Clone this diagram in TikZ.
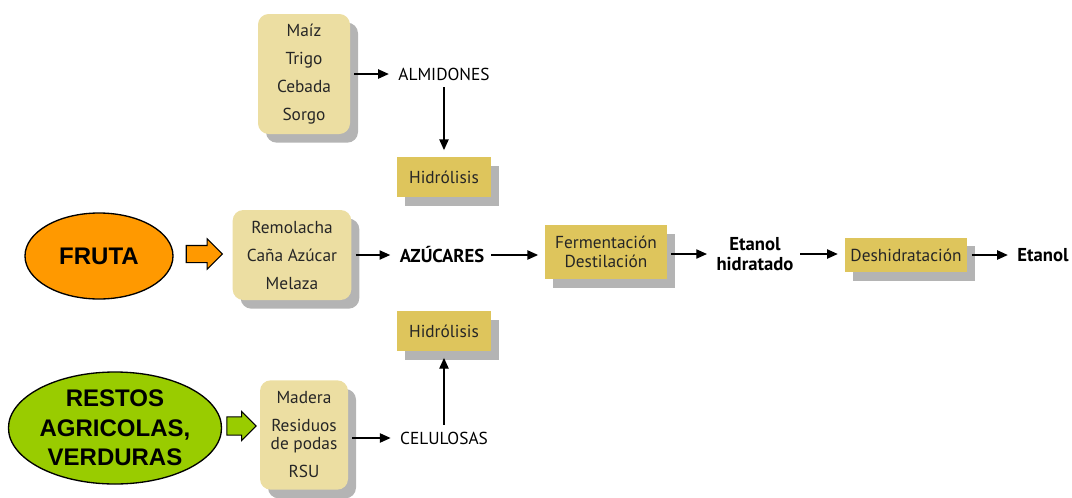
\documentclass[tikz,border=0pt]{standalone}
\usepackage{fontspec}
\setmainfont{PT Sans}
\newfontfamily\arialfont{Liberation Sans}
\usetikzlibrary{shadows}
\usetikzlibrary{shapes.geometric}
\usetikzlibrary{shapes.arrows}
\usetikzlibrary{arrows.meta}

\definecolor{paja}{RGB}{236,222,162}
\definecolor{ocre}{RGB}{222,197,92}
\definecolor{sombra}{RGB}{180,180,180}
\definecolor{naranja}{RGB}{255,153,0}
\definecolor{verde}{RGB}{153,204,0}

\tikzset{
    sombreado/.style={drop shadow={shadow xshift=6pt, shadow yshift=-6.5pt, fill=sombra, opacity=1}},
    materia/.style={sombreado, fill=paja, rounded corners=8pt, align=center, inner sep=0pt,
        text=black!85, font=\fontsize{13}{21}\selectfont},
    proceso/.style={sombreado, fill=ocre, align=center, inner sep=0pt,
        text=black!85, font=\fontsize{13}{14.5}\selectfont},
    producto/.style={inner sep=2pt, align=center, font=\fontsize{13}{15}\selectfont},
    resultado/.style={producto, font=\fontsize{14}{15.5}\selectfont\bfseries},
    fuente/.style={ellipse, draw, line width=1pt, inner sep=0pt, align=center,
        font=\arialfont\bfseries\fontsize{18}{22}\selectfont},
    bloque/.style={single arrow, draw, line width=0.8pt, inner xsep=0pt, single arrow tip angle=90},
    flecha/.style={line width=0.9pt, -{Triangle[length=8pt,width=7pt]}, shorten <=3pt, shorten >=5pt}
}

\begin{document}
\begin{tikzpicture}[x=0.75pt,y=-0.75pt]
    \useasboundingbox (0,0) rectangle (1072,497);

    % almidones
    \node[materia, minimum width=69pt, minimum height=90pt] (granos) at (304,74) {Maíz\\Trigo\\Cebada\\Sorgo};
    \node[producto] (almidon) at (444,74) {ALMIDONES};
    \node[proceso, minimum width=70.5pt, minimum height=30pt] (hidroA) at (444,177) {Hidrólisis};

    % azucares
    \node[fuente, fill=naranja, minimum width=111pt, minimum height=64.5pt] (fruta) at (99,256) {FRUTA};
    \node[bloque, fill=naranja, inner ysep=6pt, single arrow head extend=4.9pt, minimum height=27pt] (flechaF) at (200,254) {};
    \node[materia, minimum width=89pt, minimum height=67.5pt] (azucar) at (292,255) {Remolacha\\Caña Azúcar\\Melaza};
    \node[resultado] (azucares) at (442,255) {AZÚCARES};
    \node[proceso, minimum width=91.5pt, minimum height=40.5pt] (ferm) at (606,252) {Fermentación\\Destilación};
    \node[resultado] (etanolh) at (755,254) {Etanol\\hidratado};
    \node[proceso, minimum width=92pt, minimum height=26pt] (deshid) at (906,255) {Deshidratación};
    \node[resultado] (etanol) at (1043,255) {Etanol};

    % celulosas
    \node[proceso, minimum width=70.5pt, minimum height=30pt] (hidroB) at (444,331) {Hidrólisis};
    \node[fuente, fill=verde, minimum width=154.5pt, minimum height=84pt] (restos) at (115,428) {RESTOS\\AGRICOLAS,\\VERDURAS};
    \node[bloque, fill=verde, inner ysep=6.4pt, single arrow head extend=4.1pt, minimum height=22pt] (flechaR) at (237,426) {};
    \node[materia, minimum width=66pt, minimum height=82pt] (madera) at (304,435) {Madera\\Residuos\\[-7.5pt]de podas\\RSU};
    \node[producto] (celu) at (444,438) {CELULOSAS};

    \draw[flecha] (granos) -- (almidon);
    \draw[flecha] (almidon) -- (hidroA);
    \draw[flecha] (azucar) -- (azucares);
    \draw[flecha] (azucares.east) -- (azucares.east -| ferm.west);
    \draw[flecha] (ferm.east |- etanolh) -- (etanolh);
    \draw[flecha] (etanolh) -- (etanolh -| deshid.west);
    \draw[flecha] (deshid) -- (etanol);
    \draw[flecha] (madera.east |- celu) -- (celu);
    \draw[flecha] (celu) -- (hidroB);
\end{tikzpicture}
\end{document}
